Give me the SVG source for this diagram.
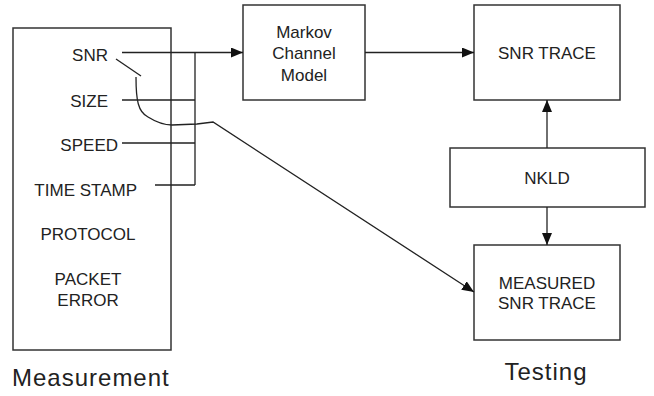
<svg xmlns="http://www.w3.org/2000/svg" width="654" height="396" viewBox="0 0 654 396">
<defs>
<style>
text{font-family:"Liberation Sans",Arial,sans-serif;fill:#222;font-size:17px}
.c{text-anchor:middle}
.r{text-anchor:end}
.big{font-size:24px;letter-spacing:1px}
.box{fill:#fff;stroke:#333;stroke-width:1.5}
.ln{fill:none;stroke:#222;stroke-width:1.3}
</style>
<marker id="ah" viewBox="0 0 12 10" refX="12" refY="5" markerWidth="12" markerHeight="10" markerUnits="userSpaceOnUse" orient="auto">
<path d="M0,0 L12,5 L0,10 Z" fill="#111"/>
</marker>
</defs>
<rect width="654" height="396" fill="#fff"/>
<g id="measurement">
<rect class="box" x="13" y="28" width="158" height="322"/>
<text class="r" x="108" y="61">SNR</text>
<text class="r" x="108" y="107">SIZE</text>
<text class="r" x="118" y="151">SPEED</text>
<text class="r" x="137" y="196">TIME STAMP</text>
<text class="c" x="88" y="240">PROTOCOL</text>
<text class="c" x="88" y="285">PACKET</text>
<text class="c" x="88" y="306">ERROR</text>
</g>
<g id="markov">
<rect class="box" x="243" y="5" width="122" height="95"/>
<text class="c" x="304" y="38">Markov</text>
<text class="c" x="304" y="59">Channel</text>
<text class="c" x="304" y="81">Model</text>
</g>
<g id="snrtrace">
<rect class="box" x="474" y="5" width="146" height="95"/>
<text class="c" x="547" y="59">SNR TRACE</text>
</g>
<g id="nkld">
<rect class="box" x="450" y="148" width="195" height="59"/>
<text class="c" x="547" y="184">NKLD</text>
</g>
<g id="measured">
<rect class="box" x="474" y="245" width="146" height="95"/>
<text class="c" x="547" y="289">MEASURED</text>
<text class="c" x="547" y="309">SNR TRACE</text>
</g>
<g id="captions">
<text class="big" x="12" y="386">Measurement</text>
<text class="big c" x="546" y="380">Testing</text>
</g>
<g id="connectors">
<path class="ln" d="M122,52.5 L243,52.5" marker-end="url(#ah)"/>
<path class="ln" d="M122,100 L195,100 M122,143 L195,143 M155,185 L195,185 M195,52.5 L195,185"/>
<path class="ln" d="M365,52.5 L474,52.5" marker-end="url(#ah)"/>
<path class="ln" d="M547,148 L547,100" marker-end="url(#ah)"/>
<path class="ln" d="M547,207 L547,245" marker-end="url(#ah)"/>
<path class="ln" d="M116,59 L141,76"/>
<path class="ln" d="M136,77 C136,100 138,112 148,117 C156,122 163,125 172,125 L197,124 L213,122 L474,292" marker-end="url(#ah)"/>
</g>
</svg>
